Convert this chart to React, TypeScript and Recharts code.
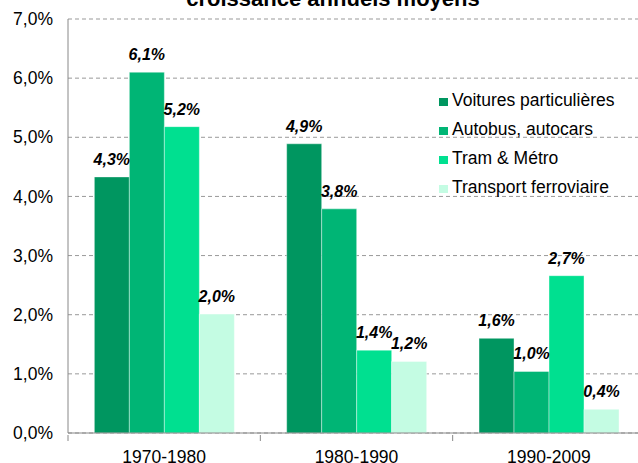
import { BarChart, Bar, XAxis, YAxis, CartesianGrid, LabelList } from 'recharts'

const periodes = ['1970-1980', '1980-1990', '1990-2009']
const voitures = [4.33, 4.89, 1.6]
const autobus = [6.1, 3.79, 1.04]
const tramMetro = [5.18, 1.4, 2.66]
const ferroviaire = [2.01, 1.21, 0.4]
const yTicks = [0, 1, 2, 3, 4, 5, 6, 7]

const series = [
  { key: 'voitures', name: 'Voitures particulières', color: '#009660' },
  { key: 'autobus', name: 'Autobus, autocars', color: '#00B575' },
  { key: 'tram', name: 'Tram & Métro', color: '#00E090' },
  { key: 'fer', name: 'Transport ferroviaire', color: '#C4FCE3' },
]

const data = periodes.map((p, i) => ({
  name: p,
  voitures: voitures[i],
  autobus: autobus[i],
  tram: tramMetro[i],
  fer: ferroviaire[i],
}))

const FONT = '"Liberation Sans", Arial, sans-serif'
const fmt = (v: any) => Number(v).toFixed(1).replace('.', ',') + '%'

// plot runs past the right edge of the picture (cropped like the original)
const BAND = (645 - 68) / 3

function XTick(props: any) {
  const { x, y, payload } = props
  const left = x - BAND / 2
  return (
    <g>
      <line x1={left} x2={left} y1={y} y2={y + 6} stroke="#888" />
      <text x={x} y={y + 28} textAnchor="middle" fontSize={17.5} fill="#000" fontFamily={FONT}>
        {payload.value}
      </text>
    </g>
  )
}

export default function App() {
  return (
    <div style={{ position: 'absolute', left: 0, top: 0, width: 638, height: 463, background: '#fff', overflow: 'hidden' }}>
      <div style={{ position: 'absolute', left: 0, top: 0 }}>
        <BarChart width={645} height={463} data={data} margin={{ top: 19, right: 0, bottom: 0, left: 0 }} barCategoryGap="13.7%" barGap={0}>
          <CartesianGrid stroke="#999" strokeDasharray="4 3" vertical={false} />
          <XAxis
            dataKey="name"
            height={30}
            axisLine={{ stroke: '#888' }}
            tickLine={false}
            tickSize={0}
            tick={<XTick />}
            interval={0}
          />
          <YAxis
            width={68}
            domain={[0, 7]}
            ticks={yTicks}
            tickFormatter={fmt}
            axisLine={{ stroke: '#888' }}
            tickLine={false}
            tickSize={0}
            tickMargin={15}
            tick={{ fontSize: 17.5, fill: '#000', fontFamily: FONT }}
          />
          {series.map(s => (
            <Bar key={s.key} dataKey={s.key} name={s.name} fill={s.color} stroke="#ffffff" strokeWidth={0.4} isAnimationActive={false}>
              <LabelList
                dataKey={s.key}
                position="top"
                offset={12}
                formatter={fmt}
                style={{ fontSize: 16, fontWeight: 'bold', fontStyle: 'italic', fill: '#000', fontFamily: FONT }}
              />
            </Bar>
          ))}
          <text x={333} y={6} textAnchor="middle" fontSize={22} fontWeight="bold" fontFamily={FONT}>
            croissance annuels moyens
          </text>
        </BarChart>
      </div>
      <div style={{ position: 'absolute', left: 439, top: 86, fontFamily: FONT, fontSize: 17.5, color: '#000' }}>
        {series.map(s => (
          <div key={s.key} style={{ display: 'flex', alignItems: 'center', height: 29, whiteSpace: 'nowrap' }}>
            <span style={{ width: 9, height: 8, background: s.color, display: 'inline-block', marginRight: 4, marginTop: 2 }} />
            <span>{s.name}</span>
          </div>
        ))}
      </div>
    </div>
  )
}
